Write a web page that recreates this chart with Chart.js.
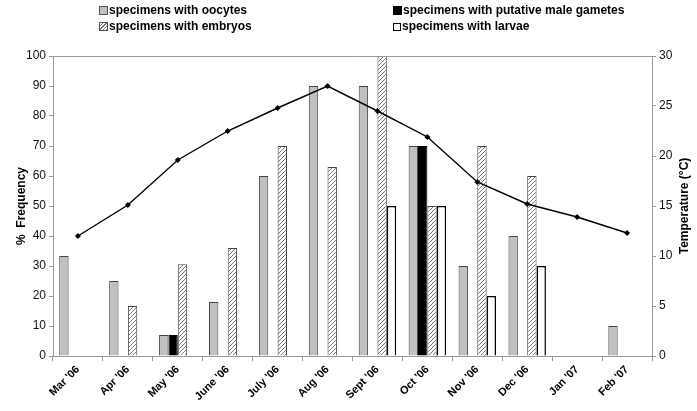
<!DOCTYPE html>
<html>
<head>
<meta charset="utf-8">
<script src="https://cdn.jsdelivr.net/npm/chart.js@4.4.1/dist/chart.umd.min.js"></script>
<style>
  html, body { margin: 0; padding: 0; background: #fff; }
  #wrap { position: relative; width: 697px; height: 411px; }
  #c { position: absolute; left: 0; top: 0; }
  .lg { position: absolute; font: bold 12px "Liberation Sans", Arial, sans-serif; color: #000; white-space: nowrap; line-height: 14px; }
  .lg i { display: inline-block; width: 7px; height: 7px; border: 1px solid #333; margin-right: 1px; vertical-align: -1px; }
</style>
</head>
<body>
<div id="wrap">
  <canvas id="c" width="697" height="411"></canvas>
</div>
<script>
  // categories and values
  const months = ["Mar '06", "Apr '06", "May '06", "June '06", "July '06", "Aug '06",
                  "Sept '06", "Oct '06", "Nov '06", "Dec '06", "Jan '07", "Feb '07"];
  const oocytes = [33.3, 25, 7, 18, 60, 90, 90, 70, 30, 40, null, 10];
  const maleGametes = [null, null, 7, null, null, null, null, 70, null, null, null, null];
  const embryos = [null, 16.7, 30.6, 36, 70, 63, 100, 50, 70, 60, null, null];
  const larvae = [null, null, null, null, null, null, 50, 50, 20, 30, null, null];
  const temperature = [12, 15.1, 19.6, 22.5, 24.8, 27, 24.5, 21.9, 17.4, 15.2, 13.9, 12.3];

  const freqTicks = { min: 0, max: 100, step: 10 };
  const tempTicks = { min: 0, max: 30, step: 5 };
  const leftTitle = "%  Frequency";
  const rightTitle = "Temperature (°C)";
  const seriesNames = {
    oocytes: "specimens with oocytes",
    embryos: "specimens with embryos",
    gametes: "specimens with putative male gametes",
    larvae: "specimens with larvae"
  };

  const font = '"Liberation Sans", Arial, sans-serif';
  const axisGray = '#9a9a9a';

  const ctx = document.getElementById('c').getContext('2d');

  // diagonal hatch fill for the embryo bars
  function makeHatch() {
    const p = document.createElement('canvas');
    p.width = 4; p.height = 4;
    const g = p.getContext('2d');
    g.fillStyle = '#fff';
    g.fillRect(0, 0, 4, 4);
    g.strokeStyle = '#7a7a7a';
    g.lineWidth = 1;
    g.beginPath();
    g.moveTo(0, 4); g.lineTo(4, 0);
    g.moveTo(-1, 1); g.lineTo(1, -1);
    g.moveTo(3, 5); g.lineTo(5, 3);
    g.stroke();
    return ctx.createPattern(p, 'repeat');
  }
  const hatch = makeHatch();

  // legend in two columns above the plot
  const legendItems = [
    { text: seriesNames.oocytes, x: 99, y: 3, box: 'background:#c0c0c0;border-color:#555' },
    { text: seriesNames.embryos, x: 99, y: 19, box: 'background:repeating-linear-gradient(135deg,#fff 0 1.5px,#777 1.5px 2.5px);border-color:#555' },
    { text: seriesNames.gametes, x: 393, y: 3, box: 'background:#000;border-color:#000' },
    { text: seriesNames.larvae, x: 393, y: 19, box: 'background:#fff;border:1.5px solid #000;width:6px;height:6px' }
  ];
  const wrap = document.getElementById('wrap');
  legendItems.forEach(it => {
    const d = document.createElement('div');
    d.className = 'lg';
    d.style.left = it.x + 'px';
    d.style.top = it.y + 'px';
    d.innerHTML = '<i style="' + it.box + '"></i>' + it.text;
    wrap.appendChild(d);
  });

  // axis titles and the grey top frame line
  const framePlugin = {
    id: 'frame',
    afterDraw(chart) {
      const { ctx, chartArea } = chart;
      const cy = (chartArea.top + chartArea.bottom) / 2;
      ctx.save();
      ctx.strokeStyle = axisGray;
      ctx.lineWidth = 1;
      ctx.beginPath();
      ctx.moveTo(chartArea.left, chartArea.top + 0.5);
      ctx.lineTo(chartArea.right, chartArea.top + 0.5);
      ctx.stroke();

      ctx.fillStyle = '#000';
      ctx.font = 'bold 12px ' + font;
      ctx.textAlign = 'center';
      ctx.textBaseline = 'middle';
      ctx.translate(22, cy);
      ctx.rotate(-Math.PI / 2);
      ctx.fillText(leftTitle, 0, 0);
      ctx.restore();

      ctx.save();
      ctx.fillStyle = '#000';
      ctx.font = 'bold 12px ' + font;
      ctx.textAlign = 'center';
      ctx.textBaseline = 'middle';
      ctx.translate(685, cy);
      ctx.rotate(-Math.PI / 2);
      ctx.fillText(rightTitle, 0, 0);
      ctx.restore();
    }
  };

  const barCommon = {
    type: 'bar',
    yAxisID: 'y',
    order: 1,
    categoryPercentage: 0.75,
    barPercentage: 1,
    borderSkipped: 'bottom'
  };

  new Chart(ctx, {
    data: {
      labels: months,
      datasets: [
        {
          type: 'line',
          label: 'Temperature',
          data: temperature,
          yAxisID: 'y2',
          order: 0,
          borderColor: '#000',
          borderWidth: 1.4,
          pointStyle: 'rectRot',
          pointRadius: 3,
          pointBackgroundColor: '#000',
          pointBorderColor: '#000',
          pointBorderWidth: 0,
          tension: 0
        },
        Object.assign({}, barCommon, {
          label: seriesNames.oocytes,
          data: oocytes,
          backgroundColor: '#c0c0c0',
          borderColor: '#444',
          borderWidth: 1
        }),
        Object.assign({}, barCommon, {
          label: seriesNames.gametes,
          data: maleGametes,
          backgroundColor: '#000',
          borderColor: '#000',
          borderWidth: 1
        }),
        Object.assign({}, barCommon, {
          label: seriesNames.embryos,
          data: embryos,
          backgroundColor: hatch,
          borderColor: '#444',
          borderWidth: 1
        }),
        Object.assign({}, barCommon, {
          label: seriesNames.larvae,
          data: larvae,
          backgroundColor: '#fff',
          borderColor: '#000',
          borderWidth: 1.5
        })
      ]
    },
    options: {
      responsive: false,
      animation: false,
      layout: { padding: { top: 56, left: 0, right: 0, bottom: 0 } },
      plugins: {
        legend: { display: false },
        tooltip: { enabled: false }
      },
      scales: {
        x: {
          offset: true,
          grid: { offset: true, drawOnChartArea: false, drawTicks: true, tickLength: 5, color: axisGray },
          border: { color: axisGray },
          ticks: {
            autoSkip: false,
            minRotation: 45,
            maxRotation: 45,
            padding: 2,
            color: '#000',
            font: { family: font, size: 11, weight: 'bold' }
          },
          afterFit: s => { s.height = 55; }
        },
        y: {
          position: 'left',
          min: freqTicks.min,
          max: freqTicks.max,
          grid: { drawOnChartArea: false, drawTicks: true, tickLength: 4, color: axisGray },
          border: { color: axisGray },
          ticks: {
            stepSize: freqTicks.step,
            padding: 3,
            color: '#111',
            font: { family: font, size: 12 }
          },
          afterFit: s => { s.width = 53; }
        },
        y2: {
          position: 'right',
          min: tempTicks.min,
          max: tempTicks.max,
          grid: { drawOnChartArea: false, drawTicks: true, tickLength: 4, color: axisGray },
          border: { color: axisGray },
          ticks: {
            stepSize: tempTicks.step,
            padding: 3,
            color: '#111',
            font: { family: font, size: 12 }
          },
          afterFit: s => { s.width = 45; }
        }
      }
    },
    plugins: [framePlugin]
  });
</script>
</body>
</html>
